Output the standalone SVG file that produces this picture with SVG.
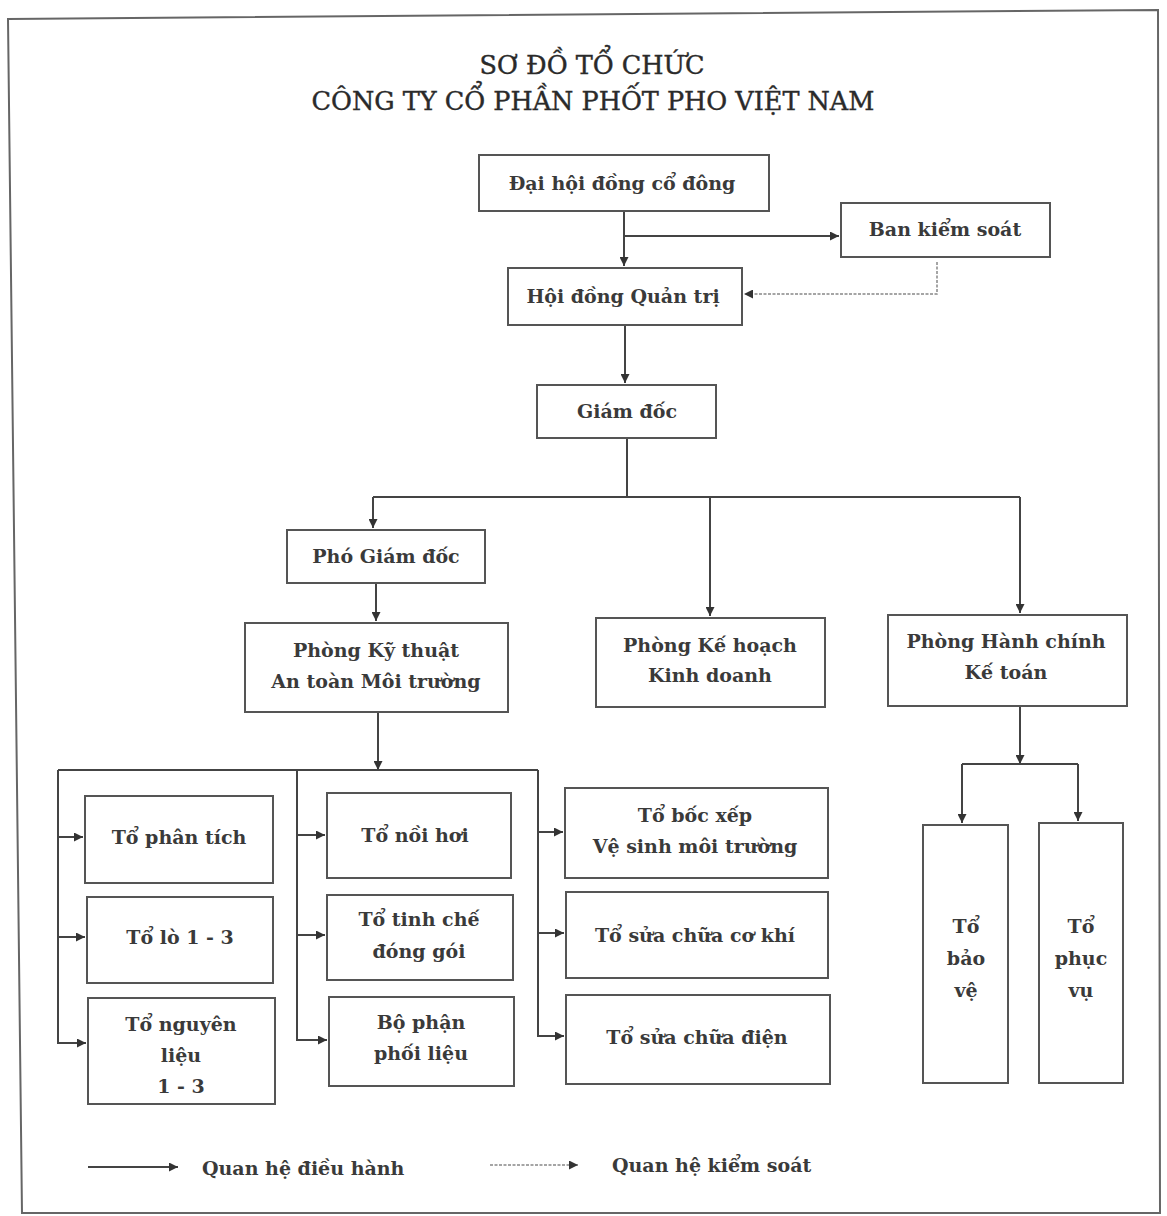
<svg xmlns="http://www.w3.org/2000/svg" width="1167" height="1216" viewBox="0 0 1167 1216">
<defs>
<style>
.box{fill:#fff;stroke:#555;stroke-width:2}
.t{font-family:"DejaVu Serif","Liberation Serif",serif;font-size:19px;font-weight:bold;fill:#3a3a3a;text-anchor:middle}
.title{font-family:"DejaVu Serif","Liberation Serif",serif;font-size:25.5px;fill:#2a2a2a;text-anchor:middle;stroke:#2a2a2a;stroke-width:0.4}
.c{fill:none;stroke:#444;stroke-width:2}
.d{fill:none;stroke:#888;stroke-width:1.5;stroke-dasharray:3 1.5}
</style>
<marker id="a" viewBox="0 0 10 10" refX="10" refY="5" markerWidth="9" markerHeight="9" markerUnits="userSpaceOnUse" orient="auto">
<path d="M0,0 L10,5 L0,10 z" fill="#333"/>
</marker>
</defs>
<rect width="1167" height="1216" fill="#fff"/>
<path d="M8,19 L1158,10 L1160,1213 L22,1213 Z" fill="none" stroke="#666" stroke-width="2"/>
<g id="title">
<text class="title" x="592" y="74">SƠ ĐỒ TỔ CHỨC</text>
<text class="title" x="593" y="110">CÔNG TY CỔ PHẦN PHỐT PHO VIỆT NAM</text>
</g>
<g id="connectors">
<path class="c" d="M624,211 V266" marker-end="url(#a)"/>
<path class="c" d="M624,236 H839" marker-end="url(#a)"/>
<path class="d" d="M937,262 V294 H744" marker-end="url(#a)"/>
<path class="c" d="M625,325 V383" marker-end="url(#a)"/>
<path class="c" d="M627,438 V497"/>
<path class="c" d="M373,497 H1020"/>
<path class="c" d="M373,497 V528" marker-end="url(#a)"/>
<path class="c" d="M710,497 V616" marker-end="url(#a)"/>
<path class="c" d="M1020,497 V613" marker-end="url(#a)"/>
<path class="c" d="M376,583 V621" marker-end="url(#a)"/>
<path class="c" d="M378,712 V770" marker-end="url(#a)"/>
<path class="c" d="M58,770 H538"/>
<path class="c" d="M58,770 V1043 H86" marker-end="url(#a)"/>
<path class="c" d="M58,837 H83" marker-end="url(#a)"/>
<path class="c" d="M58,937 H85" marker-end="url(#a)"/>
<path class="c" d="M297,770 V1040 H327" marker-end="url(#a)"/>
<path class="c" d="M297,835 H325" marker-end="url(#a)"/>
<path class="c" d="M297,935 H325" marker-end="url(#a)"/>
<path class="c" d="M538,770 V1036 H564" marker-end="url(#a)"/>
<path class="c" d="M538,832 H563" marker-end="url(#a)"/>
<path class="c" d="M538,933 H564" marker-end="url(#a)"/>
<path class="c" d="M1020,706 V764" marker-end="url(#a)"/>
<path class="c" d="M962,764 H1078"/>
<path class="c" d="M962,764 V823" marker-end="url(#a)"/>
<path class="c" d="M1078,764 V821" marker-end="url(#a)"/>
</g>
<g id="n1"><rect class="box" x="479" y="155" width="290" height="56"/><text class="t" x="622" y="190">Đại hội đồng cổ đông</text></g>
<g id="n2"><rect class="box" x="841" y="203" width="209" height="54"/><text class="t" x="945" y="236">Ban kiểm soát</text></g>
<g id="n3"><rect class="box" x="508" y="268" width="234" height="57"/><text class="t" x="623" y="303">Hội đồng Quản trị</text></g>
<g id="n4"><rect class="box" x="537" y="385" width="179" height="53"/><text class="t" x="627" y="418">Giám đốc</text></g>
<g id="n5"><rect class="box" x="287" y="530" width="198" height="53"/><text class="t" x="386" y="563">Phó Giám đốc</text></g>
<g id="n6"><rect class="box" x="245" y="623" width="263" height="89"/><text class="t" x="376" y="657">Phòng Kỹ thuật</text><text class="t" x="376" y="688">An toàn Môi trường</text></g>
<g id="n7"><rect class="box" x="596" y="618" width="229" height="89"/><text class="t" x="710" y="652">Phòng Kế hoạch</text><text class="t" x="710" y="682">Kinh doanh</text></g>
<g id="n8"><rect class="box" x="888" y="615" width="239" height="91"/><text class="t" x="1006" y="648">Phòng Hành chính</text><text class="t" x="1006" y="679">Kế toán</text></g>
<g id="n9"><rect class="box" x="85" y="796" width="188" height="87"/><text class="t" x="179" y="844">Tổ phân tích</text></g>
<g id="n10"><rect class="box" x="87" y="897" width="186" height="86"/><text class="t" x="180" y="944">Tổ lò 1 - 3</text></g>
<g id="n11"><rect class="box" x="88" y="998" width="187" height="106"/><text class="t" x="181" y="1031">Tổ nguyên</text><text class="t" x="181" y="1062">liệu</text><text class="t" x="181" y="1093">1 - 3</text></g>
<g id="n12"><rect class="box" x="327" y="793" width="184" height="85"/><text class="t" x="415" y="842">Tổ nồi hơi</text></g>
<g id="n13"><rect class="box" x="327" y="895" width="186" height="85"/><text class="t" x="419" y="926">Tổ tinh chế</text><text class="t" x="419" y="958">đóng gói</text></g>
<g id="n14"><rect class="box" x="329" y="997" width="185" height="89"/><text class="t" x="421" y="1029">Bộ phận</text><text class="t" x="421" y="1060">phối liệu</text></g>
<g id="n15"><rect class="box" x="565" y="788" width="263" height="90"/><text class="t" x="695" y="822">Tổ bốc xếp</text><text class="t" x="695" y="853">Vệ  sinh môi trường</text></g>
<g id="n16"><rect class="box" x="566" y="892" width="262" height="86"/><text class="t" x="695" y="942">Tổ sửa chữa cơ khí</text></g>
<g id="n17"><rect class="box" x="566" y="995" width="264" height="89"/><text class="t" x="697" y="1044">Tổ sửa chữa điện</text></g>
<g id="n18"><rect class="box" x="923" y="825" width="85" height="258"/><text class="t" x="966" y="933">Tổ</text><text class="t" x="966" y="965">bảo</text><text class="t" x="966" y="997">vệ</text></g>
<g id="n19"><rect class="box" x="1039" y="823" width="84" height="260"/><text class="t" x="1081" y="933">Tổ</text><text class="t" x="1081" y="965">phục</text><text class="t" x="1081" y="997">vụ</text></g>
<g id="legend">
<path class="c" d="M88,1167 H178" marker-end="url(#a)"/>
<text class="t" x="202" y="1175" style="text-anchor:start">Quan hệ điều hành</text>
<path class="d" d="M490,1165 H578" marker-end="url(#a)"/>
<text class="t" x="612" y="1172" style="text-anchor:start">Quan hệ kiểm soát</text>
</g>
</svg>
